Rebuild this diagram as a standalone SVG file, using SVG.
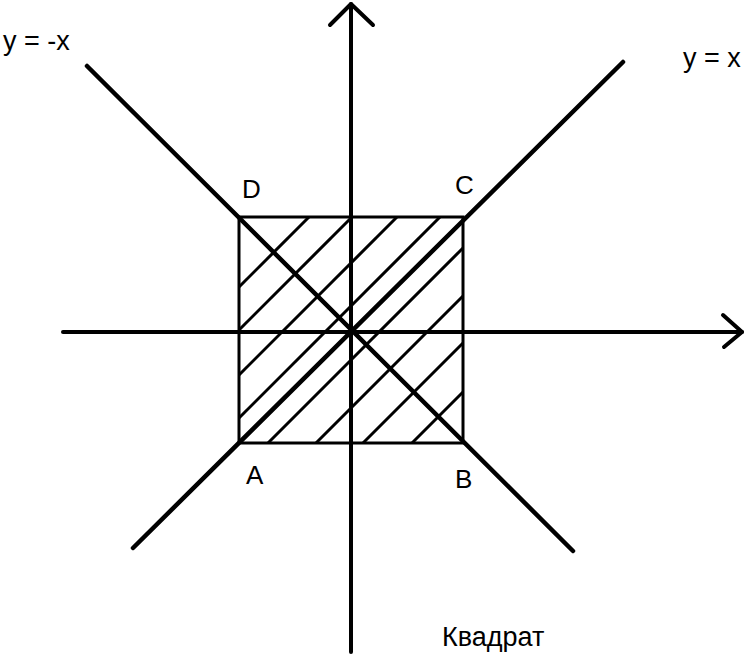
<svg xmlns="http://www.w3.org/2000/svg" width="756" height="661" viewBox="0 0 756 661">
<style>
.ax{stroke:#000;stroke-width:4;fill:none;stroke-linecap:round;stroke-linejoin:round}
.dg{stroke:#000;stroke-width:4.5;fill:none;stroke-linecap:round}
.sq{stroke:#000;stroke-width:3;fill:none}
.ht{stroke:#000;stroke-width:3;fill:none}
.lb{font-family:"Liberation Sans",Arial,sans-serif;font-size:26px;fill:#000}
.lb2{font-family:"Liberation Sans",Arial,sans-serif;font-size:27px;fill:#000}
</style>
<rect width="756" height="661" fill="#fff"/>
<g id="square">
<rect class="sq" x="239" y="217" width="224" height="226"/>
<g id="hatching">
<line class="ht" x1="239" y1="287" x2="309" y2="217"/>
<line class="ht" x1="239" y1="330" x2="352" y2="217"/>
<line class="ht" x1="239" y1="375" x2="397" y2="217"/>
<line class="ht" x1="239" y1="418" x2="440" y2="217"/>
<line class="ht" x1="268" y1="443" x2="463" y2="248"/>
<line class="ht" x1="316" y1="443" x2="463" y2="296"/>
<line class="ht" x1="363" y1="443" x2="463" y2="343"/>
<line class="ht" x1="412" y1="443" x2="463" y2="392"/>
</g>
</g>
<g id="connectors">
<line id="line-y-eq-x" class="dg" x1="133" y1="548" x2="623" y2="62"/>
<line id="line-y-eq-minus-x" class="dg" x1="87" y1="66" x2="573" y2="551"/>
<g id="axis-y">
<line class="ax" x1="351" y1="652" x2="351" y2="4"/>
<polyline class="ax" points="330,25 351,4 373,25"/>
</g>
<g id="axis-x">
<line class="ax" x1="63" y1="332" x2="742" y2="332"/>
<polyline class="ax" points="723,315 742,332 724,347"/>
</g>
</g>
<g id="labels">
<text class="lb" x="242" y="198">D</text>
<text class="lb" x="455" y="194">C</text>
<text class="lb" x="246" y="484">A</text>
<text class="lb" x="455" y="488">B</text>
<text class="lb2" x="3" y="50">y = -x</text>
<text class="lb2" x="683" y="67">y = x</text>
<text class="lb2" x="442" y="646">Квадрат</text>
</g>
</svg>
